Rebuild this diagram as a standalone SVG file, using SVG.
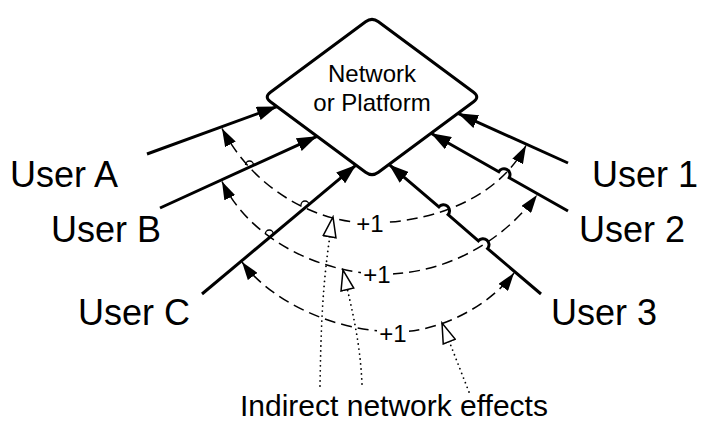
<svg xmlns="http://www.w3.org/2000/svg" width="703" height="424" viewBox="0 0 703 424">
<style>
text{font-family:"Liberation Sans",Arial,sans-serif;fill:#000}
.user{font-size:36px}
.plat{font-size:24px;text-anchor:middle}
.plus{font-size:24px;text-anchor:middle}
.solid{fill:none;stroke:#000;stroke-width:3;marker-end:url(#arrowSolid)}
.dash{fill:none;stroke:#000;stroke-width:1.5;stroke-dasharray:11 6;marker-start:url(#arrowDash);marker-end:url(#arrowDash)}
.dot{fill:none;stroke:#000;stroke-width:1.8;stroke-dasharray:0 5;stroke-linecap:round;marker-end:url(#arrowOpen)}
.hop{fill:none;stroke:#000;stroke-width:1.3}
.bg{fill:#fff}
</style>
<defs>
<marker id="arrowSolid" markerUnits="userSpaceOnUse" viewBox="0 0 20 14" refX="20" refY="7" markerWidth="20" markerHeight="14" orient="auto"><path d="M0,0 L20,7 L0,14 z" fill="#000"/></marker>
<marker id="arrowDash" markerUnits="userSpaceOnUse" viewBox="0 0 18 12" refX="18" refY="6" markerWidth="18" markerHeight="12" orient="auto-start-reverse"><path d="M0,0 L18,6 L0,12 z" fill="#000"/></marker>
<marker id="arrowOpen" markerUnits="userSpaceOnUse" viewBox="-1 -1 23 15" refX="20" refY="6.5" markerWidth="23" markerHeight="15" orient="auto"><path d="M0,0 L20,6.5 L0,13 z" fill="#fff" stroke="#000" stroke-width="1.5" stroke-linejoin="miter"/></marker>
</defs>
<rect width="703" height="424" fill="#fff"/>
<g id="platform">
<path d="M365.57,21.76 Q372,17 378.43,21.76 L473.57,92.24 Q480,97 473.57,101.76 L378.43,172.24 Q372,177 365.57,172.24 L270.43,101.76 Q264,97 270.43,92.24 Z" fill="#fff" stroke="#000" stroke-width="3"/>
<text class="plat" x="372" y="82">Network</text>
<text class="plat" x="372" y="111">or Platform</text>
</g>
<g id="connectors">
<path class="dash" d="M222,128.5 C260,200 330,225 375,223 C440,221 500,195 526,145.5"/>
<path class="dash" d="M222,181.5 C250,240 320,272 378,274 C440,276 500,245 537,195"/>
<path class="dash" d="M242,262 C270,300 330,330 393,332 C440,333 490,305 514,273"/>
<path class="solid" d="M147,154 L277,106.6"/>
<path class="solid" d="M160,208 L317,136.3"/>
<path class="solid" d="M202,294 L356,165.1"/>
<path class="solid" d="M568,163 L458,113.3"/>
<path class="solid" d="M568,211 L509.2,177.7 A6,6 0 0 0 498.8,171.7 L431,133.3"/>
<path class="solid" d="M541,294 L487.6,248.6 A6,6 0 0 0 478.4,240.8 L448.1,214.7 A6,6 0 0 0 438.9,206.9 L389,164.4"/>
<path class="hop" d="M245.5,165 A4,4 0 0 1 253.5,165"/>
<path class="hop" d="M301,205 A4,4 0 0 1 309,205"/>
<path class="hop" d="M265.3,234 A4,4 0 0 1 273.3,234"/>
<path class="dot" d="M320,386 C321,330 322,280 333,217"/>
<path class="dot" d="M362,384 C360,340 352,310 343,270"/>
<path class="dot" d="M469,392 L442,323"/>
<rect class="bg" x="354" y="214" width="32" height="21"/>
<text class="plus" x="370" y="232">+1</text>
<rect class="bg" x="361" y="265" width="32" height="21"/>
<text class="plus" x="377" y="283">+1</text>
<rect class="bg" x="377" y="324" width="32" height="21"/>
<text class="plus" x="393" y="342">+1</text>
</g>
<g id="userA"><text class="user" x="10" y="187">User A</text></g>
<g id="userB"><text class="user" x="51" y="242">User B</text></g>
<g id="userC"><text class="user" x="78" y="325">User C</text></g>
<g id="user1"><text class="user" x="592" y="187">User 1</text></g>
<g id="user2"><text class="user" x="579" y="242">User 2</text></g>
<g id="user3"><text class="user" x="551" y="325">User 3</text></g>
<g id="effects"><text x="240" y="416" font-size="30">Indirect network effects</text></g>
</svg>
